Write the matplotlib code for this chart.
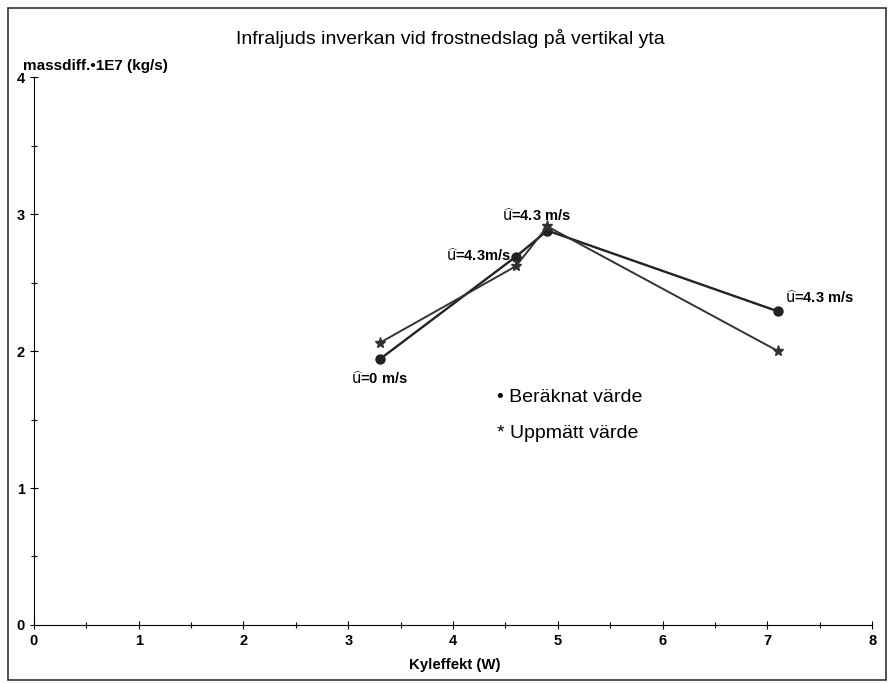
import matplotlib.pyplot as plt
from matplotlib.patches import Rectangle
from matplotlib.ticker import MultipleLocator

plt.rcParams['font.family'] = ['Liberation Sans', 'DejaVu Sans']

# Kyleffekt (W)
x = [3.3, 4.6, 4.9, 7.1]
# massdiff * 1E7 (kg/s)
beraknat = [1.94, 2.69, 2.88, 2.29]
uppmatt = [2.06, 2.62, 2.91, 2.00]

labels = [r'$\widehat{\mathrm{u}}$=0 m/s', r'$\widehat{\mathrm{u}}$=4.3m/s',
          r'$\widehat{\mathrm{u}}$=4.3 m/s', r'$\widehat{\mathrm{u}}$=4.3 m/s']
label_pos = [(3.03, 1.80), (3.93, 2.70), (4.47, 2.99), (7.17, 2.39)]

fig = plt.figure(figsize=(8.91, 6.83), dpi=100)
ax = fig.add_axes([0.038, 0.085, 0.941, 0.802])

ax.plot(x, beraknat, color='#222222', lw=1.7, marker='o', ms=6.5)
ax.plot(x, uppmatt, color='#333333', lw=1.4, marker='*', ms=8)

for txt, (tx, ty) in zip(labels, label_pos):
    ax.text(tx, ty, txt, fontsize=10.5, fontweight='bold', va='center', ha='left')

ax.text(4.42, 1.66, '\u2022 Beräknat värde', fontsize=14, va='center')
ax.text(4.42, 1.40, '* Uppmätt värde', fontsize=14, va='center')

ax.set_xlim(0, 8)
ax.set_ylim(0, 4)
ax.xaxis.set_major_locator(MultipleLocator(1))
ax.xaxis.set_minor_locator(MultipleLocator(0.5))
ax.yaxis.set_major_locator(MultipleLocator(1))
ax.yaxis.set_minor_locator(MultipleLocator(0.5))
ax.tick_params(which='both', direction='inout', length=6, width=0.8, labelsize=10.5)
ax.tick_params(which='minor', length=4)
for lab in ax.get_xticklabels() + ax.get_yticklabels():
    lab.set_fontweight('bold')
ax.spines['top'].set_visible(False)
ax.spines['right'].set_visible(False)

fig.text(0.505, 0.944, 'Infraljuds inverkan vid frostnedslag på vertikal yta',
         ha='center', va='center', fontsize=14)
fig.text(0.026, 0.904, 'massdiff.\u20221E7 (kg/s)', ha='left', va='center',
         fontsize=11, fontweight='bold')
fig.text(0.51, 0.027, 'Kyleffekt (W)', ha='center', va='center',
         fontsize=10.8, fontweight='bold')

fig.patches.append(Rectangle((0.009, 0.005), 0.985, 0.983, transform=fig.transFigure,
                             fill=False, edgecolor='#333333', lw=1.2))

fig.savefig('out.png', dpi=100)
